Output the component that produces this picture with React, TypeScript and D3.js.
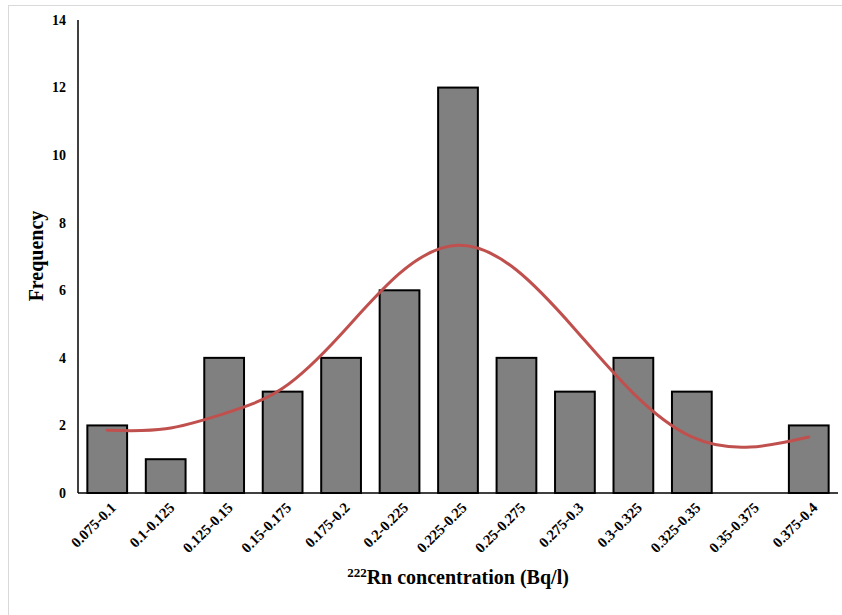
import React from "react";
import * as d3 from "d3";

const categories = [
  "0.075-0.1", "0.1-0.125", "0.125-0.15", "0.15-0.175", "0.175-0.2", "0.2-0.225",
  "0.225-0.25", "0.25-0.275", "0.275-0.3", "0.3-0.325", "0.325-0.35", "0.35-0.375", "0.375-0.4",
];
const frequency = [2, 1, 4, 3, 4, 6, 12, 4, 3, 4, 3, 0, 2];
const trend = [1.86, 1.9, 2.35, 3.1, 4.7, 6.5, 7.33, 6.6, 4.85, 2.95, 1.66, 1.36, 1.66];
const yTicks = [0, 2, 4, 6, 8, 10, 12, 14];

export default function App() {
  const W = 842, H = 615;
  const left = 78, right = 838, top = 20, bottom = 493;
  const x = d3.scaleBand<string>().domain(categories).range([left, right]).paddingInner(0.32).paddingOuter(0.16);
  const y = d3.scaleLinear().domain([0, 14]).range([bottom, top]);
  const cx = (c: string) => (x(c) as number) + x.bandwidth() / 2;
  const line = d3
    .line<number>()
    .x((_, i) => cx(categories[i]))
    .y((d) => y(d))
    .curve(d3.curveNatural);
  const font = "'Liberation Serif', 'Times New Roman', serif";
  return (
    <svg width={W} height={H} style={{ position: "absolute", left: 0, top: 0, background: "#fff" }} fontFamily={font}>
      <rect x={8.5} y={5.5} width={W + 10} height={H + 10} fill="none" stroke="#d9d9d9" strokeWidth={1} />
      {categories.map((c, i) => (
        <rect
          key={c}
          x={x(c)}
          y={y(frequency[i])}
          width={x.bandwidth()}
          height={bottom - y(frequency[i])}
          fill="#808080"
          stroke="#000"
          strokeWidth={2}
          style={{ display: frequency[i] > 0 ? undefined : "none" }}
        />
      ))}
      <path d={line(trend) || ""} fill="none" stroke="#c0504d" strokeWidth={3} strokeLinecap="round" />
      <line x1={left} x2={left} y1={top} y2={bottom} stroke="#000" strokeWidth={1.5} />
      <line x1={left} x2={right} y1={bottom} y2={bottom} stroke="#000" strokeWidth={1.5} />
      {yTicks.map((t) => (
        <text key={t} x={66} y={y(t)} dy="0.35em" textAnchor="end" fontSize={14} fontWeight="bold">
          {t}
        </text>
      ))}
      {categories.map((c) => (
        <text
          key={c}
          transform={`translate(${cx(c) + 6},${505}) rotate(-45)`}
          textAnchor="end"
          dy="0.35em"
          fontSize={14.7}
          fontWeight="bold"
        >
          {c}
        </text>
      ))}
      <text transform={`translate(43,${256}) rotate(-90)`} textAnchor="middle" fontSize={20} fontWeight="bold">
        Frequency
      </text>
      <text x={458} y={584} textAnchor="middle" fontSize={20} fontWeight="bold">
        <tspan fontSize={13} dy={-7}>222</tspan>
        <tspan dy={7}>Rn concentration (Bq/l)</tspan>
      </text>
    </svg>
  );
}
